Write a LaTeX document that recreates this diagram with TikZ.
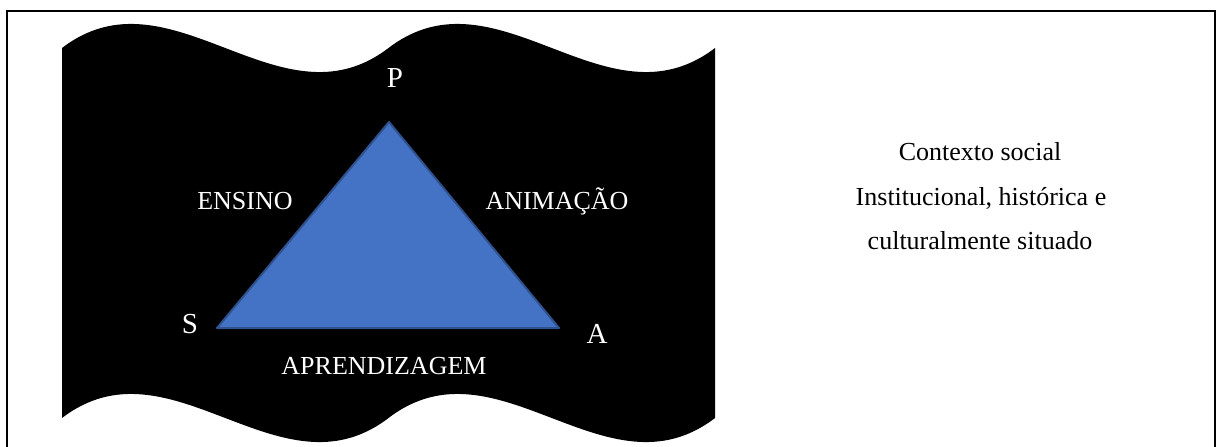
\documentclass[tikz,border=0pt]{standalone}
\usepackage{fontspec}
\setmainfont{Liberation Serif}
\definecolor{trifill}{HTML}{4472C4}
\definecolor{triline}{HTML}{2F528F}
\begin{document}
\begin{tikzpicture}[x=1pt,y=-1pt,
  lbl/.style={text=white,font=\fontsize{26}{30}\selectfont,inner sep=0pt,anchor=base},
  vtx/.style={text=white,font=\fontsize{29}{34}\selectfont,inner sep=0pt,anchor=base},
  ctx/.style={text=black,font=\fontsize{26}{30}\selectfont,inner sep=0pt,anchor=base}]
\useasboundingbox (0,0) rectangle (1218,447);
% outer frame
\draw[line width=1.5pt] (7,470) -- (7,11) -- (1215,11) -- (1215,470);
% wavy flag
\fill[black] (62,48) .. controls (170.8,-35.3) and (279.7,131.3) .. (388.5,48)
  .. controls (497.3,-35.3) and (606.2,131.3) .. (715,48)
  -- (715,418) .. controls (606.2,501.3) and (497.3,334.7) .. (388.5,418)
  .. controls (279.7,501.3) and (170.8,334.7) .. (62,418) -- cycle;
% triangle
\coordinate (P) at (389,122);
\coordinate (S) at (217,328);
\coordinate (A) at (559,328);
\filldraw[fill=trifill,draw=triline,line width=2pt,line join=round] (P) -- (A) -- (S) -- cycle;
% labels
\node[vtx] (lP) at (395,87) {P};
\node[vtx] (lS) at (190,333) {S};
\node[vtx] (lA) at (597,343) {A};
\node[lbl] (ens) at (245,209) {ENSINO};
\node[lbl] (ani) at (557,209) {ANIMAÇÃO};
\node[lbl] (apr) at (384,374) {APRENDIZAGEM};
% context text
\node[ctx] (c1) at (980,160) {Contexto social};
\node[ctx] (c2) at (981,205) {Institucional, histórica e};
\node[ctx] (c3) at (980,249) {culturalmente situado};
\end{tikzpicture}
\end{document}
